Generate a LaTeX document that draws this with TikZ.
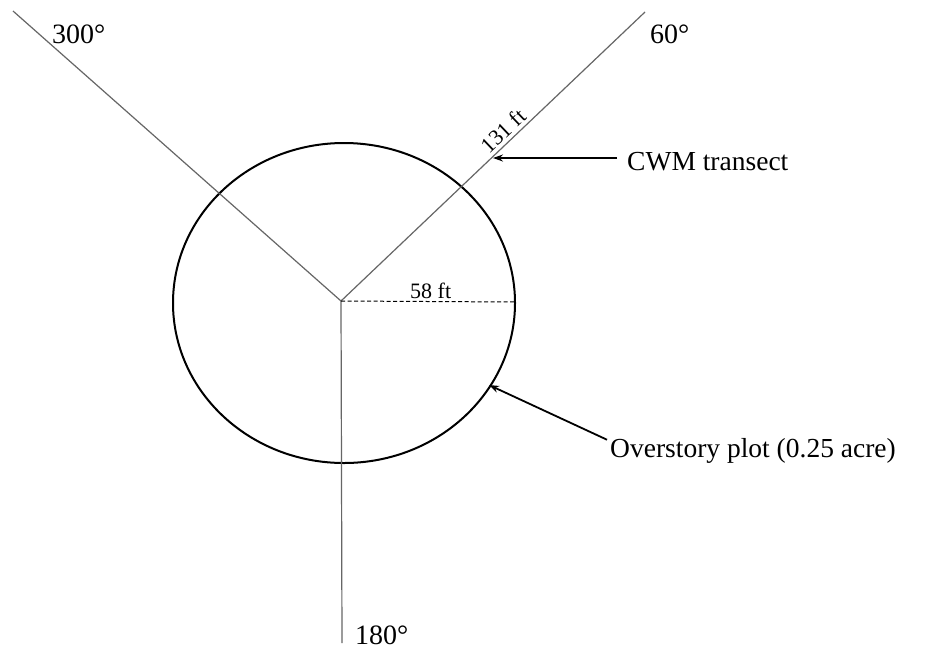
\documentclass[tikz,border=0pt]{standalone}
\usepackage{fontspec}
\setmainfont{Liberation Serif}
\usetikzlibrary{arrows.meta}
\begin{document}
\begin{tikzpicture}[x=1pt,y=-1pt,
  ray/.style={draw=black!60,line width=1.2pt},
  plot/.style={draw=black,line width=2pt},
  callout/.style={draw=black,line width=1.8pt,-{Stealth[length=10pt,width=7pt]}},
  biglabel/.style={inner sep=0pt,font=\fontsize{27.5}{30}\selectfont},
  deglabel/.style={inner sep=0pt,font=\fontsize{28}{31}\selectfont},
  smalllabel/.style={inner sep=0pt,font=\fontsize{22}{25}\selectfont}]
\useasboundingbox (0,0) rectangle (928,649);
\fill[white] (0,0) rectangle (928,649);
% key points
\coordinate (c) at (341,301);
\coordinate (e300) at (13,11);
\coordinate (e60) at (645,12);
\coordinate (e180) at (342,643);
\coordinate (r) at (516,302);
\coordinate (cwmtip) at (493,158);
\coordinate (plottip) at (489,385);
% plot outline
\draw[plot] (344,303) ellipse [x radius=171, y radius=160];
% transects
\draw[ray] (c) -- (e300);
\draw[ray] (c) -- node[pos=0.56,sloped,above,inner sep=3pt,font=\fontsize{22}{25}\selectfont,black] (len) {131 ft} (e60);
\draw[ray] (c) -- (e180);
% radius
\draw[line width=1pt,dash pattern=on 4pt off 2.5pt] (c) -- (r);
\node[smalllabel,anchor=base west] (rad) at (410,298) {58 ft};
% degree labels
\node[deglabel,anchor=base west] (d300) at (52,43) {300°};
\node[deglabel,anchor=base west] (d60) at (650,43) {60°};
\node[deglabel,anchor=base west] (d180) at (355,644) {180°};
% callouts
\node[biglabel,anchor=base west] (cwm) at (627,170) {CWM transect};
\node[biglabel,anchor=base west] (ovs) at (610,457) {Overstory plot (0.25 acre)};
\draw[callout] (cwm.west |- 0,158) ++(-10,0) coordinate (cwmstart) -- (cwmtip);
\draw[callout] ([xshift=-3pt,yshift=-2pt]ovs.north west) -- (plottip);
\end{tikzpicture}
\end{document}
